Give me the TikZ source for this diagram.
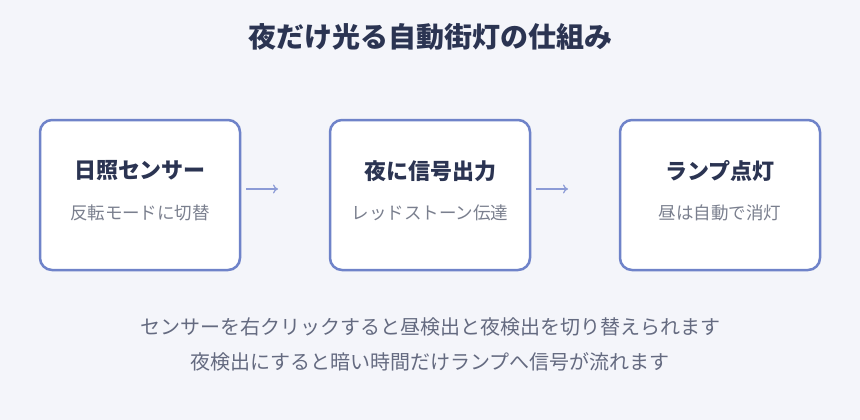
\documentclass[tikz,border=0pt]{standalone}
\usepackage{fontspec}
\setmainfont{Noto Sans CJK JP}
\usetikzlibrary{arrows.meta}
\definecolor{bg}{HTML}{F4F5FA}
\definecolor{navy}{HTML}{2B3452}
\definecolor{boxline}{HTML}{6F83C9}
\definecolor{arrowc}{HTML}{8C9BD6}
\definecolor{subgray}{HTML}{7A7F8E}
\definecolor{notegray}{HTML}{646A80}
\tikzset{
  stepbox/.style={draw=boxline, line width=2.5pt, rounded corners=12pt, fill=white, minimum width=200pt, minimum height=150pt, inner sep=0pt},
  boxtitle/.style={font=\fontsize{22}{26}\selectfont\bfseries, text=navy},
  boxsub/.style={font=\fontsize{17.5}{20}\selectfont, text=subgray},
  note/.style={font=\fontsize{20}{24}\selectfont, text=notegray},
  flow/.style={draw=arrowc, line width=1.2pt, -{To[length=5pt,width=9pt]}},
}
\begin{document}
\begin{tikzpicture}[x=1pt,y=-1pt]
\fill[bg] (0,0) rectangle (860,420);
\useasboundingbox (0,0) rectangle (860,420);
\node[font=\fontsize{28}{32}\selectfont\bfseries, text=navy] (title) at (430,37) {夜だけ光る自動街灯の仕組み};
\node[stepbox] (b1) at (140,195) {};
\node[stepbox] (b2) at (430,195) {};
\node[stepbox] (b3) at (720,195) {};
\node[boxtitle] (t1) at (140,171) {日照センサー};
\node[boxsub] (s1) at (140,213) {反転モードに切替};
\node[boxtitle] (t2) at (430,171) {夜に信号出力};
\node[boxsub] (s2) at (430,213) {レッドストーン伝達};
\node[boxtitle] (t3) at (720,171) {ランプ点灯};
\node[boxsub] (s3) at (720,213) {昼は自動で消灯};
\coordinate (a1s) at (246,189); \coordinate (a1e) at (278,189);
\coordinate (a2s) at (536,189); \coordinate (a2e) at (568,189);
\draw[flow] (a1s) -- (a1e);
\draw[flow] (a2s) -- (a2e);
\node[note] (n1) at (430,327) {センサーを右クリックすると昼検出と夜検出を切り替えられます};
\node[note] (n2) at (430,362) {夜検出にすると暗い時間だけランプへ信号が流れます};
\end{tikzpicture}
\end{document}
